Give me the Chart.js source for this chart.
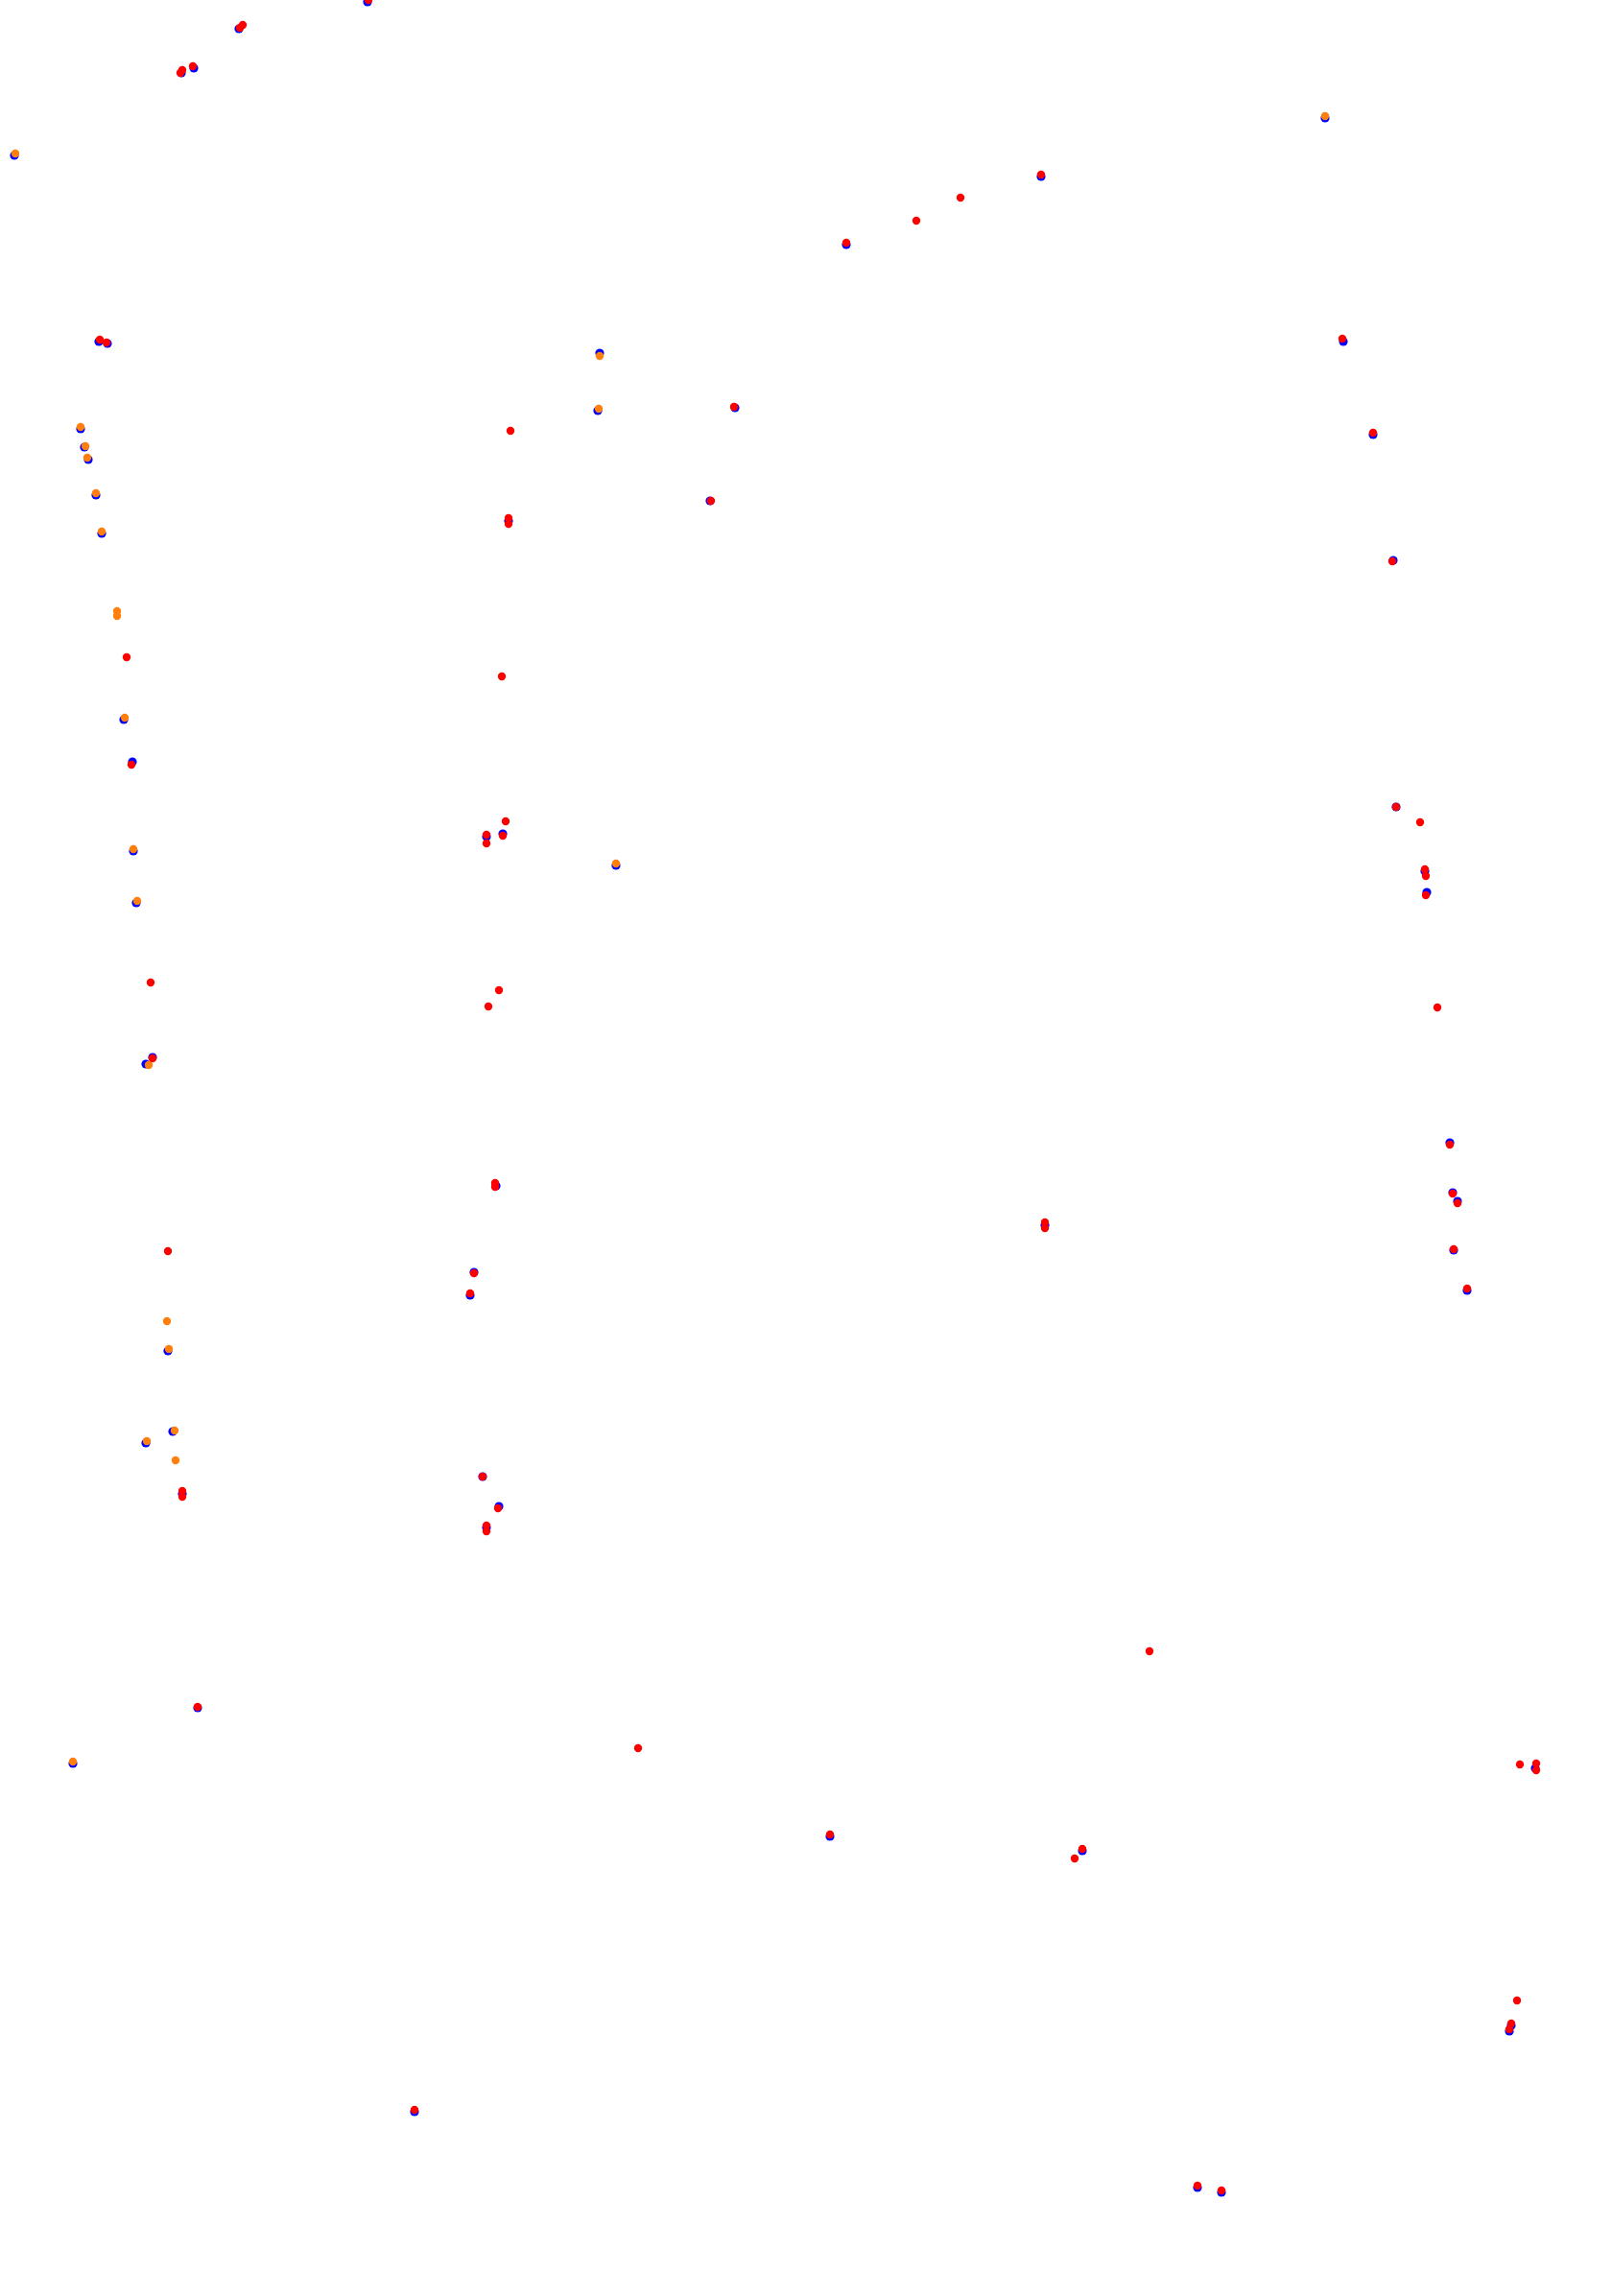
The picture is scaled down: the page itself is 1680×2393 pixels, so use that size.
<!DOCTYPE html>
<html>
<head>
<meta charset="utf-8">
<script src="https://cdn.jsdelivr.net/npm/chart.js@4"></script>
<style>
  body { margin: 0; background: #fff; }
  canvas { display: block; }
</style>
</head>
<body>
<canvas id="myChart" width="1680" height="2393"></canvas>
<script>
// values, x across and y down
const redPoints = [
  [384, 0], [250, 29], [253, 26], [188, 76], [190, 73], [201, 69],
  [1085, 182], [1001, 206], [955, 230], [882, 253],
  [104, 354], [111, 357], [1399, 353], [765, 424], [532, 449], [1431, 451],
  [530, 540], [530, 546], [741, 522], [1451, 585], [132, 685], [523, 705],
  [137, 797], [1455, 841], [1480, 857], [527, 856], [507, 870], [524, 871],
  [507, 879], [1485, 906], [1486, 913], [1486, 933], [157, 1024], [520, 1032],
  [509, 1049], [1498, 1050], [159, 1103], [1511, 1193], [516, 1233], [516, 1237],
  [1514, 1244], [1519, 1254], [1089, 1274], [1089, 1280], [1515, 1302],
  [175, 1304], [494, 1327], [490, 1348], [1529, 1343], [190, 1554], [190, 1560],
  [503, 1539], [519, 1572], [507, 1590], [507, 1596], [1198, 1721], [206, 1779],
  [665, 1822], [1584, 1839], [1601, 1838], [1601, 1845], [865, 1912],
  [1128, 1927], [1120, 1937], [1581, 2085], [1575, 2109], [1573, 2115],
  [432, 2199], [1248, 2278], [1273, 2283]
];

const orangePoints = [
  [16, 160], [1381, 121], [625, 371], [624, 426], [84, 445], [89, 465],
  [91, 477], [100, 514], [106, 554], [122, 637], [122, 642], [130, 748],
  [139, 885], [642, 900], [143, 939], [155, 1110], [174, 1377], [176, 1406],
  [182, 1491], [153, 1502], [183, 1522], [76, 1836]
];

const bluePoints = [
  [383, 2], [249, 30], [189, 76], [202, 71], [15, 162], [1381, 123],
  [1085, 184], [882, 255], [103, 356], [112, 358], [1400, 356], [625, 368],
  [623, 428], [766, 425], [84, 447], [88, 466], [92, 479], [1431, 453],
  [100, 516], [530, 543], [740, 522], [106, 556], [1452, 584], [129, 750],
  [138, 794], [1455, 841], [507, 872], [524, 869], [1485, 908], [1487, 930],
  [139, 887], [642, 902], [142, 941], [159, 1102], [152, 1109], [1511, 1191],
  [517, 1236], [1514, 1243], [1519, 1252], [1089, 1277], [1515, 1303],
  [494, 1326], [490, 1350], [1529, 1345], [175, 1408], [180, 1492], [152, 1504],
  [190, 1557], [503, 1539], [520, 1570], [507, 1592], [206, 1780], [76, 1838],
  [1600, 1843], [865, 1914], [1128, 1929], [1575, 2111], [1573, 2117],
  [432, 2201], [1248, 2280], [1273, 2285]
];

function toXY(list) {
  return list.map(function (p) { return { x: p[0], y: p[1] }; });
}

const ctx = document.getElementById("myChart");

new Chart(ctx, {
  type: "scatter",
  data: {
    datasets: [
      // first dataset is drawn on top
      {
        label: "red",
        data: toXY(redPoints),
        backgroundColor: "#ff0000",
        borderWidth: 0,
        pointRadius: 4.2,
      },
      {
        label: "orange",
        data: toXY(orangePoints),
        backgroundColor: "#ff7f0e",
        borderWidth: 0,
        pointRadius: 4.2,
      },
      {
        label: "blue",
        data: toXY(bluePoints),
        backgroundColor: "#0000ff",
        borderWidth: 0,
        pointRadius: 4.6,
      },
    ],
  },
  options: {
    responsive: false,
    animation: false,
    layout: { padding: 0, autoPadding: false },
    plugins: {
      legend: { display: false },
      tooltip: { enabled: false },
    },
    scales: {
      x: { type: "linear", min: 0, max: 1680, display: false },
      y: { type: "linear", min: 0, max: 2393, reverse: true, display: false },
    },
  },
});
</script>
</body>
</html>
